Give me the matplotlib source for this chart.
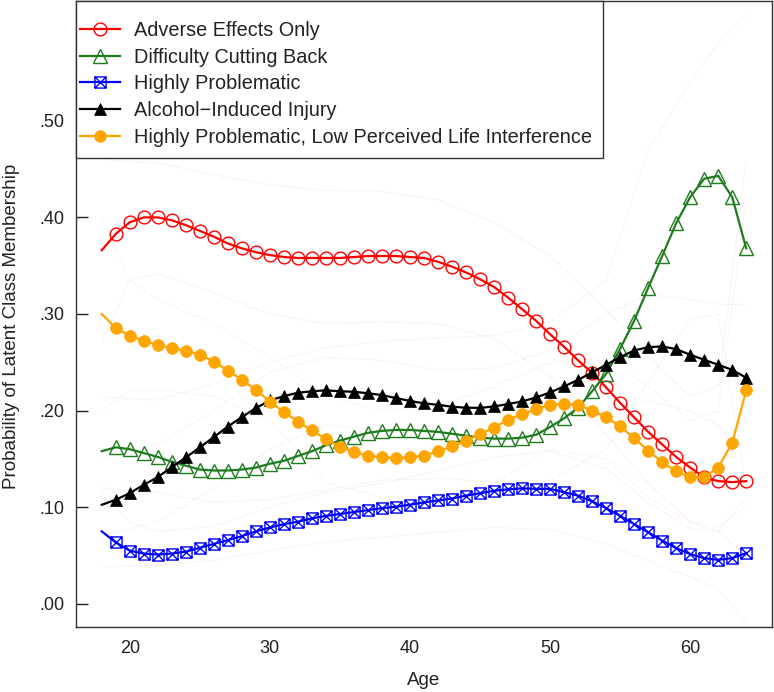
import matplotlib
matplotlib.use("Agg")
import matplotlib.pyplot as plt
from matplotlib.path import Path
from matplotlib.patches import Rectangle

plt.rcParams['font.family'] = ['Liberation Sans', 'DejaVu Sans']

ages = list(range(18, 65))

adverse = [0.366, 0.383, 0.395, 0.400, 0.400, 0.397, 0.392, 0.386, 0.380, 0.373,
           0.368, 0.364, 0.361, 0.359, 0.358, 0.358, 0.358, 0.358, 0.359, 0.360,
           0.360, 0.360, 0.359, 0.358, 0.354, 0.349, 0.343, 0.336, 0.328, 0.317,
           0.305, 0.293, 0.279, 0.266, 0.252, 0.239, 0.224, 0.208, 0.193, 0.178,
           0.165, 0.152, 0.141, 0.131, 0.127, 0.126, 0.127]

difficulty = [0.158, 0.162, 0.160, 0.156, 0.152, 0.147, 0.143, 0.139, 0.138, 0.138,
              0.139, 0.141, 0.145, 0.148, 0.153, 0.158, 0.164, 0.169, 0.173, 0.177,
              0.179, 0.180, 0.180, 0.179, 0.178, 0.176, 0.174, 0.172, 0.171, 0.171,
              0.172, 0.175, 0.183, 0.192, 0.203, 0.220, 0.238, 0.264, 0.293, 0.327,
              0.360, 0.394, 0.421, 0.440, 0.443, 0.421, 0.368]

highly = [0.075, 0.0635, 0.055, 0.052, 0.051, 0.052, 0.054, 0.058, 0.062, 0.066,
          0.070, 0.075, 0.079, 0.0825, 0.085, 0.0885, 0.091, 0.093, 0.095, 0.097,
          0.099, 0.1005, 0.1025, 0.105, 0.107, 0.109, 0.112, 0.1145, 0.117, 0.1185,
          0.1195, 0.119, 0.119, 0.1155, 0.112, 0.106, 0.099, 0.091, 0.0825, 0.074,
          0.0655, 0.0576, 0.0515, 0.0473, 0.0455, 0.0473, 0.0525]

injury = [0.1025, 0.1077, 0.1146, 0.1232, 0.1312, 0.1415, 0.1515, 0.162, 0.1726, 0.1835,
          0.1933, 0.2026, 0.2105, 0.2150, 0.2185, 0.2200, 0.2210, 0.2200, 0.2195, 0.2180,
          0.2160, 0.2130, 0.2100, 0.2075, 0.2060, 0.2040, 0.2030, 0.2028, 0.2043, 0.2068,
          0.2095, 0.2136, 0.2188, 0.2250, 0.2319, 0.2395, 0.2474, 0.2554, 0.2622, 0.2657,
          0.2664, 0.2637, 0.2578, 0.2526, 0.2474, 0.2422, 0.2340]

low_pli = [0.300, 0.2854, 0.2774, 0.2723, 0.268, 0.2647, 0.2619, 0.2578, 0.2508, 0.2415,
           0.2319, 0.2215, 0.2094, 0.1984, 0.1887, 0.1795, 0.1705, 0.1625, 0.157, 0.1535,
           0.1515, 0.1508, 0.1515, 0.1535, 0.1577, 0.1629, 0.1687, 0.1757, 0.1825, 0.1905,
           0.1964, 0.2015, 0.2060, 0.2067, 0.2060, 0.2000, 0.1933, 0.1836, 0.1715, 0.1584,
           0.1467, 0.1370, 0.1312, 0.1308, 0.1411, 0.1665, 0.2210]

# faint confidence bounds (rough readings at selected ages)
ci_ages = [18, 20, 22, 26, 30, 34, 38, 42, 46, 50, 54, 57, 60, 62, 64]
adverse_lo = [0.270, 0.335, 0.342, 0.322, 0.300, 0.290, 0.292, 0.290, 0.275, 0.235, 0.175, 0.125, 0.085, 0.075, 0.050]
adverse_hi = [0.460, 0.458, 0.456, 0.444, 0.434, 0.428, 0.427, 0.418, 0.395, 0.360, 0.305, 0.255, 0.215, 0.225, 0.460]
difficulty_lo = [0.120, 0.118, 0.115, 0.105, 0.108, 0.118, 0.128, 0.130, 0.126, 0.128, 0.160, 0.230, 0.295, 0.300, 0.120]
difficulty_hi = [0.214, 0.212, 0.211, 0.228, 0.250, 0.265, 0.272, 0.275, 0.278, 0.292, 0.335, 0.470, 0.540, 0.580, 0.610]
highly_lo = [0.038, 0.039, 0.040, 0.045, 0.055, 0.064, 0.069, 0.074, 0.079, 0.077, 0.062, 0.045, 0.028, 0.015, -0.020]
highly_hi = [0.115, 0.085, 0.075, 0.080, 0.100, 0.115, 0.125, 0.138, 0.152, 0.158, 0.140, 0.105, 0.078, 0.075, 0.110]
injury_lo = [0.070, 0.078, 0.085, 0.120, 0.160, 0.185, 0.180, 0.170, 0.165, 0.178, 0.200, 0.210, 0.200, 0.185, 0.160]
injury_hi = [0.150, 0.155, 0.165, 0.200, 0.240, 0.255, 0.252, 0.242, 0.244, 0.262, 0.300, 0.320, 0.315, 0.310, 0.310]
low_pli_lo = [0.200, 0.221, 0.221, 0.215, 0.190, 0.125, 0.110, 0.112, 0.125, 0.160, 0.150, 0.110, 0.085, 0.080, 0.100]
low_pli_hi = [0.400, 0.335, 0.315, 0.290, 0.255, 0.215, 0.200, 0.205, 0.225, 0.250, 0.255, 0.225, 0.190, 0.200, 0.420]

labels = ["Adverse Effects Only", "Difficulty Cutting Back", "Highly Problematic",
          "Alcohol\u2212Induced Injury", "Highly Problematic, Low Perceived Life Interference"]

y_ticks = [0.0, 0.1, 0.2, 0.3, 0.4, 0.5]
y_ticklabels = [".00", ".10", ".20", ".30", ".40", ".50"]
x_ticks = [20, 30, 40, 50, 60]

# square with X (R pch 7)
sqx = Path([(-1, -1), (1, -1), (1, 1), (-1, 1), (-1, -1),
            (-1, -1), (1, 1), (-1, 1), (1, -1)],
           [Path.MOVETO, Path.LINETO, Path.LINETO, Path.LINETO, Path.CLOSEPOLY,
            Path.MOVETO, Path.LINETO, Path.MOVETO, Path.LINETO])

fig = plt.figure(figsize=(7.74, 6.92), dpi=100)
ax = fig.add_axes([76 / 774, 1 - 627 / 692, (772 - 76) / 774, (627 - 1) / 692])

# faint CI bounds
ci_sets = [(adverse_lo, adverse_hi, '#F3B8B8'), (difficulty_lo, difficulty_hi, '#B8DDB8'),
           (highly_lo, highly_hi, '#C4CCF2'), (injury_lo, injury_hi, '#D0D0D0'),
           (low_pli_lo, low_pli_hi, '#F6D2A8')]
for lo, hi, c in ci_sets:
    ax.plot(ci_ages, lo, color=c, lw=0.8, ls=(0, (1, 1.5)), alpha=0.45, zorder=1)
    ax.plot(ci_ages, hi, color=c, lw=0.8, ls=(0, (1, 1.5)), alpha=0.45, zorder=1)

mk = list(range(1, len(ages)))
series = [
    (adverse, '#FF0000', dict(marker='o', markersize=9.2, markerfacecolor='none', markeredgewidth=1.0)),
    (difficulty, '#1E7B1E', dict(marker='^', markersize=9.5, markerfacecolor='none', markeredgewidth=1.0)),
    (highly, '#0000FF', dict(marker=sqx, markersize=8, markerfacecolor='none', markeredgewidth=1.0)),
    (injury, '#000000', dict(marker='^', markersize=9, markerfacecolor='#000000', markeredgewidth=0.5)),
    (low_pli, '#FFA500', dict(marker='o', markersize=8.5, markerfacecolor='#FFA500', markeredgewidth=0.5)),
]
for (vals, col, mst), lab in zip(series, labels):
    ax.plot(ages, vals, color=col, lw=1.6, markeredgecolor=col, markevery=mk, label=lab,
            zorder=3, **mst)

ax.set_xlim(16.16, 65.84)
ax.set_ylim(-0.024, 0.624)
ax.set_yticks(y_ticks)
ax.set_yticklabels(y_ticklabels)
ax.set_xticks(x_ticks)
ax.tick_params(axis='y', direction='in', length=8.6, width=1.0, pad=8.5,
               labelsize=13, colors='#222222')
ax.tick_params(axis='x', length=0, pad=9.5, labelsize=13, colors='#222222')
for s in ax.spines.values():
    s.set_color('#333333')
    s.set_linewidth(1.0)

ax.set_xlabel("Age", fontsize=13.5, color='#222222', va='center')
ax.xaxis.set_label_coords(0.5, -0.085)
ax.set_ylabel("Probability of Latent Class Membership", fontsize=13.5, color='#222222', va='center')
ax.yaxis.set_label_coords(-0.092, 0.481)

# legend box (R style: box flush with the plot's top-left corner)
ax.add_patch(Rectangle((0, (627 - 158) / 626), (603 - 76) / 696, (158 - 1) / 626,
                       transform=ax.transAxes, facecolor='white', edgecolor='#333333',
                       lw=1.0, zorder=4, clip_on=False))
leg = ax.legend(loc='upper left', bbox_to_anchor=(4 / 696, (627 - 21) / 626),
                borderaxespad=0, borderpad=0, frameon=False, fontsize=14.3,
                handlelength=2.03, handletextpad=0.71, labelspacing=0.385)
leg.set_zorder(5)
for t in leg.get_texts():
    t.set_color('#222222')

fig.savefig("out.png", dpi=100)
